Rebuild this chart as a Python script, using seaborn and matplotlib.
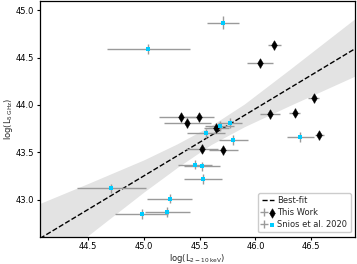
import numpy as np
import pandas as pd
import matplotlib
matplotlib.use("Agg")
import matplotlib.pyplot as plt
from matplotlib.legend_handler import HandlerTuple
import seaborn as sns

# This Work
work_x = [45.33, 45.39, 45.49, 45.65, 45.52, 45.71, 46.17, 46.04, 46.52, 46.13, 46.35, 46.57]
work_y = [43.87, 43.81, 43.87, 43.76, 43.54, 43.52, 44.63, 44.44, 44.07, 43.90, 43.92, 43.68]
work_xerr = [0.19, 0.21, 0.14, 0.11, 0.14, 0.13, 0.06, 0.12, 0.05, 0.09, 0.05, 0.04]
work_yerr = [0.05, 0.05, 0.05, 0.05, 0.05, 0.05, 0.05, 0.05, 0.05, 0.05, 0.05, 0.05]

# Snios et al. 2020
snios_x = [45.04, 45.71, 44.71, 45.23, 45.21, 44.98, 45.46, 45.52, 45.53, 45.68, 45.77, 45.56, 45.80, 46.40]
snios_y = [44.59, 44.87, 43.12, 43.01, 42.87, 42.85, 43.37, 43.35, 43.22, 43.78, 43.81, 43.70, 43.63, 43.66]
snios_xerr = [0.37, 0.14, 0.31, 0.20, 0.20, 0.24, 0.15, 0.16, 0.17, 0.13, 0.11, 0.17, 0.13, 0.12]
snios_yerr = [0.05, 0.07, 0.05, 0.05, 0.05, 0.05, 0.05, 0.05, 0.05, 0.05, 0.05, 0.05, 0.05, 0.05]

# best fit and its band
fit_x = [44.07, 46.90]
fit_y = [42.59, 44.60]
band_x = [44.07, 44.5, 45.0, 45.3, 45.6, 45.9, 46.3, 46.9]
band_lo = [42.22, 42.62, 43.08, 43.34, 43.58, 43.77, 43.99, 44.31]
band_hi = [42.96, 43.17, 43.42, 43.59, 43.78, 44.01, 44.37, 44.92]

sns.set_theme(style="ticks")
plt.rcParams['font.family'] = ['DejaVu Sans']
plt.rcParams['axes.edgecolor'] = 'black'
plt.rcParams['xtick.color'] = 'black'
plt.rcParams['ytick.color'] = 'black'

fig = plt.figure(figsize=(3.57, 2.64), dpi=100)
ax = fig.add_axes([0.112, 0.104, 0.882, 0.891])

cyan = '#00ccff'

ax.fill_between(band_x, band_lo, band_hi, color='#e3e3e3', lw=0, zorder=1)
fit_df = pd.DataFrame({'x': fit_x, 'y': fit_y})
sns.lineplot(data=fit_df, x='x', y='y', ax=ax, color='black', ls='--', lw=1.0, zorder=2)
fit_line = ax.lines[-1]

eb_w = ax.errorbar(work_x, work_y, xerr=work_xerr, yerr=work_yerr, fmt='none',
                   ecolor='#9a9a9a', elinewidth=1.0, zorder=3)
eb_s = ax.errorbar(snios_x, snios_y, xerr=snios_xerr, yerr=snios_yerr, fmt='none',
                   ecolor='#9a9a9a', elinewidth=1.0, zorder=3)

sns.scatterplot(x=work_x, y=work_y, ax=ax, marker='d', s=24, color='black',
                edgecolor='black', linewidth=0.3, zorder=4, legend=False)
sc_w = ax.collections[-1]
sns.scatterplot(x=snios_x, y=snios_y, ax=ax, marker='s', s=7, color=cyan,
                edgecolor=cyan, linewidth=0, zorder=4, legend=False)
sc_s = ax.collections[-1]

ax.set_xlim(44.07, 46.89)
ax.set_ylim(42.61, 45.095)
ax.set_xticks([44.5, 45.0, 45.5, 46.0, 46.5])
ax.set_yticks([43.0, 43.5, 44.0, 44.5, 45.0])
ax.tick_params(labelsize=6, length=2.5, width=0.8, pad=1.5)
for s in ax.spines.values():
    s.set_linewidth(0.9)
    s.set_visible(True)

ax.set_xlabel(r'log(L$_{2-10\,\mathrm{keV}}$)', fontsize=6, labelpad=1)
ax.set_ylabel(r'log(L$_{5\,\mathrm{GHz}}$)', fontsize=6, labelpad=1)

ax.legend([fit_line, (eb_w, sc_w), (eb_s, sc_s)],
          ['Best-fit', 'This Work', 'Snios et al. 2020'],
          handler_map={tuple: HandlerTuple(ndivide=None)},
          loc='lower right', fontsize=6, handlelength=1.5, handletextpad=0.4,
          borderpad=0.4, labelspacing=0.35, frameon=True, fancybox=True,
          edgecolor='#cccccc', framealpha=1)

fig.savefig('out.png', dpi=100)
